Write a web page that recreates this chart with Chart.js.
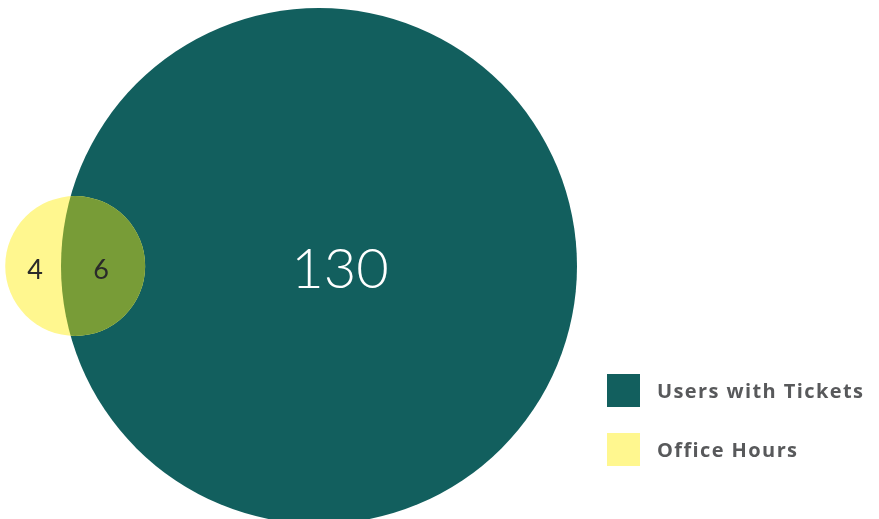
<!DOCTYPE html>
<html>
<head>
<meta charset="utf-8">
<script src="https://cdn.jsdelivr.net/npm/chart.js@4/dist/chart.umd.min.js"></script>
<style>
  html, body { margin: 0; padding: 0; background: #fff; }
  #wrap { width: 879px; height: 519px; position: relative; }
</style>
</head>
<body>
<div id="wrap"><canvas id="vennChart"></canvas></div>
<script>
// du lieu doc tu hinh
const setLabels = ['Users with Tickets', 'Office Hours'];
const onlyValues = [130, 4];   // chi thuoc 1 tap
const bothValue = 6;           // phan giao
const setColors = ['#125F5E', '#FFF78F'];
const overlapColor = '#789C37';

// kich thuoc moi tap = phan rieng + phan giao
const setSizes = onlyValues.map(v => v + bothValue);
const radii = setSizes.map(s => Math.sqrt(s / Math.PI));

// dien tich phan giao cua 2 hinh tron
function lensArea(r1, r2, d) {
    if (d >= r1 + r2) return 0;
    if (d <= Math.abs(r1 - r2)) return Math.PI * Math.min(r1, r2) ** 2;
    const a = r1 * r1 * Math.acos((d * d + r1 * r1 - r2 * r2) / (2 * d * r1));
    const b = r2 * r2 * Math.acos((d * d + r2 * r2 - r1 * r1) / (2 * d * r2));
    const c = 0.5 * Math.sqrt((-d + r1 + r2) * (d + r1 - r2) * (d - r1 + r2) * (d + r1 + r2));
    return a + b - c;
}

// tim khoang cach tam sao cho phan giao = bothValue
function solveDistance(r1, r2, target) {
    let lo = Math.abs(r1 - r2) + 1e-9, hi = r1 + r2;
    for (let i = 0; i < 100; i++) {
        const mid = (lo + hi) / 2;
        if (lensArea(r1, r2, mid) > target) lo = mid; else hi = mid;
    }
    return (lo + hi) / 2;
}
const dist = solveDistance(radii[0], radii[1], bothValue);

// khung nhin: tam hinh lon o (319, 266) px, ban kinh 258 px
const W = 879, H = 519;
const pxPerUnit = 258 / radii[0];
const xMin = -319 / pxPerUnit, xMax = (W - 319) / pxPerUnit;
const yMax = 266 / pxPerUnit, yMin = -(H - 266) / pxPerUnit;

const centers = [{ x: 0, y: 0 }, { x: -dist, y: 0 }];

const vennPlugin = {
    id: 'vennExtras',
    afterDatasetsDraw(chart) {
        const ctx = chart.ctx;
        const big = chart.getDatasetMeta(0).data[0];
        const small = chart.getDatasetMeta(1).data[0];
        const R = big.options.radius, r = small.options.radius;

        // to mau phan giao
        ctx.save();
        ctx.beginPath();
        ctx.arc(big.x, big.y, R, 0, Math.PI * 2);
        ctx.clip();
        ctx.beginPath();
        ctx.arc(small.x, small.y, r, 0, Math.PI * 2);
        ctx.fillStyle = overlapColor;
        ctx.fill();
        ctx.restore();

        // nhan so lieu
        const bigLeft = big.x - R, bigRight = big.x + R;
        const smallLeft = small.x - r, smallRight = small.x + r;
        const yText = big.y + 4;
        ctx.save();
        ctx.textAlign = 'center';
        ctx.textBaseline = 'middle';
        ctx.fillStyle = '#ffffff';
        ctx.font = '300 56px Lato, "Open Sans", sans-serif';
        const midBig = (smallRight + bigRight) / 2;
        ctx.fillText(String(onlyValues[0]), (midBig + big.x) / 2, yText);
        ctx.fillStyle = '#2a2a2a';
        ctx.font = '27px Lato, "Open Sans", sans-serif';
        ctx.fillText(String(onlyValues[1]), (smallLeft + bigLeft) / 2 + 2, yText);
        ctx.fillText(String(bothValue), (bigLeft + smallRight) / 2 - 2, yText);
        ctx.restore();

        // chu thich
        ctx.save();
        ctx.textBaseline = 'middle';
        ctx.font = 'bold 20px "Open Sans", sans-serif';
        ctx.letterSpacing = '1.4px';
        setLabels.forEach((lab, i) => {
            const top = 374 + i * 59;
            ctx.fillStyle = setColors[i];
            ctx.fillRect(607, top, 33, 33);
            ctx.fillStyle = '#58595B';
            ctx.fillText(lab, 657, top + 18);
        });
        ctx.restore();
    }
};

const chart = new Chart(document.getElementById('vennChart'), {
    type: 'bubble',
    data: {
        datasets: setLabels.map((lab, i) => ({
            label: lab,
            // r cua bubble tinh bang pixel
            data: [{ x: centers[i].x, y: centers[i].y, r: radii[i] * pxPerUnit }],
            backgroundColor: setColors[i],
            borderWidth: 0,
            order: setLabels.length - i,
            hoverRadius: 0,
            clip: false
        }))
    },
    options: {
        responsive: true,
        maintainAspectRatio: false,
        animation: false,
        events: [],
        layout: { padding: 0, autoPadding: false },
        scales: {
            x: { type: 'linear', display: false, min: xMin, max: xMax },
            y: { type: 'linear', display: false, min: yMin, max: yMax }
        },
        plugins: {
            legend: { display: false },
            tooltip: { enabled: false }
        }
    },
    plugins: [vennPlugin]
});
</script>
</body>
</html>
